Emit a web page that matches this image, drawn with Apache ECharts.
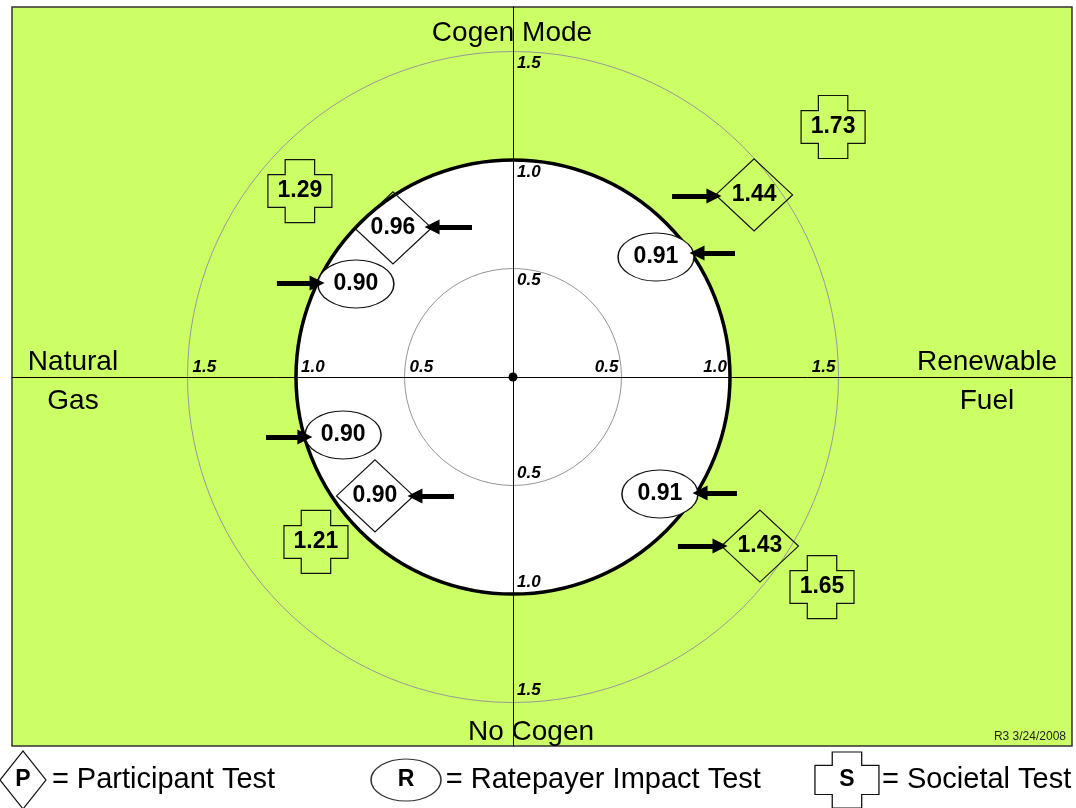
<!DOCTYPE html>
<html lang="en">
<head>
    <meta charset="UTF-8">
    <title>Cost-effectiveness tests</title>
    <style>
        html, body { margin: 0; padding: 0; background: #fff; }
        .chart { width: 1076px; height: 808px; }
    </style>
</head>
<body>
<div class="chart" id="showData"></div>
<script src="https://cdn.jsdelivr.net/npm/echarts@6/dist/echarts.min.js"></script>
<script>
    // quadrant order: NG/Cogen, RF/Cogen, NG/No Cogen, RF/No Cogen
    var quadrants = ['Natural Gas, Cogen Mode', 'Renewable Fuel, Cogen Mode', 'Natural Gas, No Cogen', 'Renewable Fuel, No Cogen'];
    var participant = [0.96, 1.44, 0.90, 1.43];
    var ratepayer = [0.90, 0.91, 0.90, 0.91];
    var societal = [1.29, 1.73, 1.21, 1.65];
    var ringTicks = [0.5, 1.0, 1.5];
    var legendNames = ['= Participant Test', '= Ratepayer Impact Test', '= Societal Test'];
    var legendLetters = ['P', 'R', 'S'];

    // where each badge sits, in chart units (1.0 = the break-even ring)
    var pPos = [[-0.553, 0.687], [1.111, 0.839], [-0.636, -0.548], [1.138, -0.779]];
    var rPos = [[-0.724, 0.429], [0.659, 0.553], [-0.783, -0.267], [0.677, -0.539]];
    var sPos = [[-0.982, 0.857], [1.475, 1.152], [-0.908, -0.760], [1.424, -0.968]];
    var arrows = [
        [[-1.088, 0.433], [-0.903, 0.433]],
        [[-0.189, 0.691], [-0.373, 0.691]],
        [[0.733, 0.834], [0.926, 0.834]],
        [[1.023, 0.571], [0.848, 0.571]],
        [[-1.138, -0.276], [-0.959, -0.276]],
        [[-0.272, -0.548], [-0.452, -0.548]],
        [[1.032, -0.535], [0.862, -0.535]],
        [[0.760, -0.779], [0.954, -0.779]]
    ];
    var legendPos = [[-2.258, -1.857], [-0.493, -1.857], [1.539, -1.857]];
    var legendTextX = [-2.125, -0.31, 1.70];

    var UNIT = 217, CX = 513, CY = 377;
    var G = {left: 12, top: 7, right: 1072, bottom: 746};

    var FONT = '"Liberation Sans", Arial, sans-serif';
    var crossPath = 'path://M27,0L73,0L73,24L100,24L100,76L73,76L73,100L27,100L27,76L0,76L0,24L27,24Z';
    var clear = 'rgba(0,0,0,0)';

    function badges(values, pos) {
        return values.map(function (v, i) {
            return {name: quadrants[i], value: [pos[i][0], pos[i][1], v]};
        });
    }

    var tickData = [];
    ringTicks.forEach(function (t) {
        var txt = t.toFixed(1);
        tickData.push({value: [-t, 0], label: {formatter: txt, position: 'right', distance: 5, offset: [0, -10]}});
        tickData.push({value: [t, 0], label: {formatter: txt, position: 'left', distance: 3, offset: [0, -10]}});
        tickData.push({value: [0, t], label: {formatter: txt, position: 'right', distance: 4, offset: [0, 12]}});
        tickData.push({value: [0, -t], label: {formatter: txt, position: 'right', distance: 4, offset: [0, -12]}});
    });

    var valueLabel = {
        show: true, position: 'inside', color: '#000',
        fontFamily: FONT, fontWeight: 'bold', fontSize: 23,
        formatter: function (p) { return p.value[2].toFixed(2); }
    };
    var outline = {color: clear, borderColor: '#111', borderWidth: 1.2, opacity: 1};
    var bigText = {fill: '#000', font: '28px ' + FONT, align: 'center', lineHeight: 39};

    var option = {
        animation: false,
        backgroundColor: '#fff',
        grid: {
            left: G.left, top: G.top, right: 1076 - G.right, bottom: 808 - G.bottom,
            show: true, backgroundColor: '#ccff66', borderColor: '#333', borderWidth: 1.5, z: 0
        },
        xAxis: {
            type: 'value', min: (G.left - CX) / UNIT, max: (G.right - CX) / UNIT, z: 3,
            axisLine: {show: true, onZero: true, lineStyle: {color: '#000', width: 1}},
            axisTick: {show: false}, axisLabel: {show: false}, splitLine: {show: false}
        },
        yAxis: {
            type: 'value', min: (CY - G.bottom) / UNIT, max: (CY - G.top) / UNIT, z: 3,
            axisLine: {show: true, onZero: true, lineStyle: {color: '#000', width: 1}},
            axisTick: {show: false}, axisLabel: {show: false}, splitLine: {show: false}
        },
        polar: [
            {center: [CX, CY], radius: 1.5 * UNIT},
            {center: [CX, CY], radius: 1.0 * UNIT}
        ],
        radiusAxis: [
            {
                polarIndex: 0, type: 'value', min: 0, max: 1.5, interval: 0.5, z: 1,
                axisLine: {show: false}, axisTick: {show: false}, axisLabel: {show: false},
                splitLine: {show: true, lineStyle: {color: '#999', width: 1}},
                splitArea: {show: true, areaStyle: {color: ['#ffffff', '#ffffff', clear]}}
            },
            {
                polarIndex: 1, type: 'value', min: 0, max: 1, interval: 0.5, z: 2,
                axisLine: {show: false}, axisTick: {show: false}, axisLabel: {show: false},
                splitLine: {show: true, lineStyle: {color: '#999', width: 1}}, splitArea: {show: false}
            }
        ],
        angleAxis: [
            {
                polarIndex: 0, type: 'value', min: 0, max: 360, z: 1,
                axisLine: {show: false}, axisTick: {show: false}, axisLabel: {show: false},
                splitLine: {show: false}
            },
            {
                polarIndex: 1, type: 'value', min: 0, max: 360, z: 2,
                axisLine: {show: true, lineStyle: {color: '#000', width: 3.5}},
                axisTick: {show: false}, axisLabel: {show: false}, splitLine: {show: false}
            }
        ],
        graphic: [
            {type: 'text', z: 10, x: 512, y: 14, style: Object.assign({text: 'Cogen Mode'}, bigText)},
            {type: 'text', z: 10, x: 531, y: 713, style: Object.assign({text: 'No Cogen'}, bigText)},
            {type: 'text', z: 10, x: 73, y: 343, style: Object.assign({text: 'Natural\nGas'}, bigText)},
            {type: 'text', z: 10, x: 987, y: 343, style: Object.assign({text: 'Renewable\nFuel'}, bigText)},
            {type: 'text', z: 10, right: 10, top: 731, style: {text: 'R3 3/24/2008', fill: '#222', font: '12px ' + FONT}}
        ],
        series: [
            {
                name: 'ring ticks', type: 'scatter', symbolSize: 0, z: 4, silent: true,
                itemStyle: {opacity: 1},
                label: {show: true, color: '#000', fontFamily: FONT, fontSize: 17, fontWeight: 'bold', fontStyle: 'italic'},
                data: tickData
            },
            {
                name: 'origin', type: 'scatter', symbol: 'circle', symbolSize: 9, z: 4, silent: true,
                itemStyle: {color: '#000', opacity: 1}, data: [[0, 0]]
            },
            {
                name: 'Participant Test', type: 'scatter', symbol: 'diamond', symbolSize: [77, 72], z: 5,
                itemStyle: outline, label: valueLabel, data: badges(participant, pPos)
            },
            {
                name: 'Ratepayer Impact Test', type: 'scatter', symbol: 'circle', symbolSize: [76, 48], z: 5,
                itemStyle: {color: '#fff', borderColor: '#111', borderWidth: 1.2, opacity: 1}, label: valueLabel,
                data: badges(ratepayer, rPos)
            },
            {
                name: 'Societal Test', type: 'scatter', symbol: crossPath, symbolSize: [64, 63], z: 5,
                itemStyle: outline, label: valueLabel, data: badges(societal, sPos)
            },
            {
                name: 'pointers', type: 'lines', coordinateSystem: 'cartesian2d', z: 6, silent: true,
                symbol: ['none', 'triangle'], symbolSize: 15,
                lineStyle: {color: '#000', width: 5, opacity: 1},
                data: arrows.map(function (a) { return {coords: a}; })
            },
            {
                name: 'key', type: 'scatter', clip: false, z: 5, silent: true,
                itemStyle: outline,
                label: {show: true, position: 'inside', color: '#000', fontFamily: FONT, fontWeight: 'bold', fontSize: 23,
                    formatter: function (p) { return legendLetters[p.dataIndex]; }},
                data: [
                    {value: legendPos[0], symbol: 'diamond', symbolSize: [46, 58]},
                    {value: legendPos[1], symbol: 'circle', symbolSize: [70, 42], itemStyle: {color: '#fff', borderColor: '#333'}},
                    {value: legendPos[2], symbol: crossPath, symbolSize: [64, 56]}
                ]
            },
            {
                name: 'key text', type: 'scatter', clip: false, symbolSize: 0, z: 5, silent: true,
                itemStyle: {opacity: 1},
                label: {show: true, position: 'right', distance: 0, color: '#000', fontFamily: FONT, fontSize: 29,
                    formatter: function (p) { return legendNames[p.dataIndex]; }},
                data: legendTextX.map(function (x, i) { return [x, legendPos[i][1]]; })
            }
        ]
    };

    var mychart = echarts.init(document.getElementById('showData'));
    mychart.setOption(option);
</script>
</body>
</html>
